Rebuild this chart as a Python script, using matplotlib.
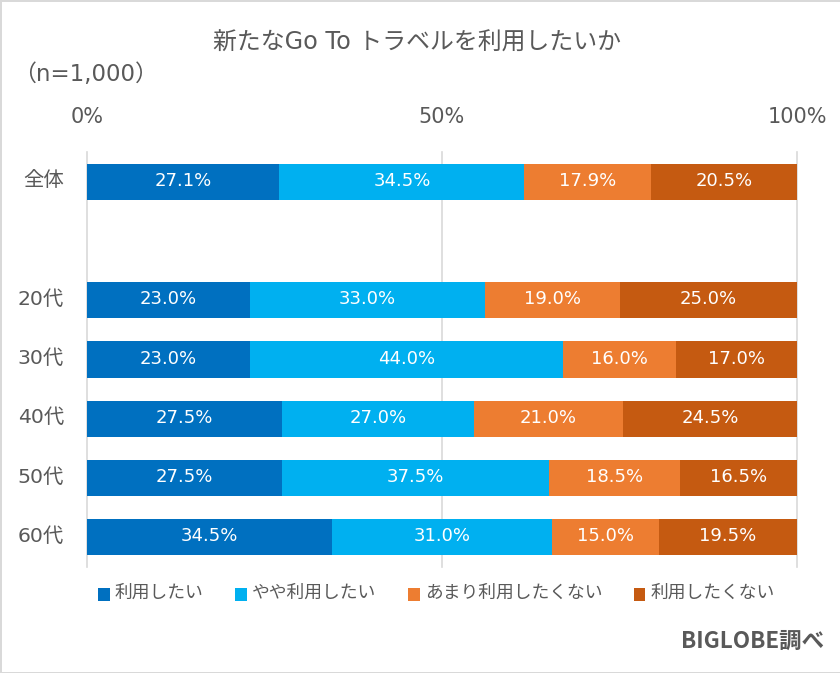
import matplotlib
matplotlib.use('Agg')
import matplotlib.pyplot as plt
from matplotlib.transforms import ScaledTranslation
import numpy as np

plt.rcParams['font.family'] = ['DejaVu Sans', 'Noto Sans CJK JP']

# データ（空行は全体と20代の間のすきま）
groups = ['全体', '', '20代', '30代', '40代', '50代', '60代']
series_names = ['利用したい', 'やや利用したい', 'あまり利用したくない', '利用したくない']
want = [27.1, np.nan, 23.0, 23.0, 27.5, 27.5, 34.5]
somewhat = [34.5, np.nan, 33.0, 44.0, 27.0, 37.5, 31.0]
not_much = [17.9, np.nan, 19.0, 16.0, 21.0, 18.5, 15.0]
not_want = [20.5, np.nan, 25.0, 17.0, 24.5, 16.5, 19.5]
colors = ['#0070C0', '#00B0F0', '#ED7D31', '#C55A11']
x_ticks = [0, 50, 100]
x_tick_labels = ['0%', '50%', '100%']

text_color = '#595959'

fig = plt.figure(figsize=(8.4, 6.73), dpi=100, facecolor='white')
ax = fig.add_axes([87 / 840, 1 - 567 / 673, 710 / 840, 415 / 673])

y = np.arange(len(groups))
left = np.zeros(len(groups))
handles = []
for name, vals, c in zip(series_names, [want, somewhat, not_much, not_want], colors):
    vals = np.array(vals)
    b = ax.barh(y, vals, left=np.nan_to_num(left), height=0.61, color=c, label=name, zorder=3)
    handles.append(b)
    for yy, v, l in zip(y, vals, left):
        if not np.isnan(v):
            ax.text(l + v / 2, yy - 0.015, f'{v:.1f}%', color='white', fontsize=13,
                    ha='center', va='center', zorder=4)
    left = left + np.nan_to_num(vals)

ax.set_xlim(0, 100)
ax.set_ylim(len(groups) - 0.5, -0.5)
ax.xaxis.tick_top()
ax.set_xticks(x_ticks)
ax.set_xticklabels(x_tick_labels, fontsize=15, color=text_color)
ax.set_yticks(y)
ax.set_yticklabels(groups, fontsize=14.7, color=text_color)
ax.tick_params(axis='both', length=0)
ax.tick_params(axis='x', pad=17.7)
ax.tick_params(axis='y', pad=16.5)
for lbl in ax.get_yticklabels():
    lbl.set_transform(lbl.get_transform() + ScaledTranslation(0, 2.2 / 72, fig.dpi_scale_trans))
ax.grid(axis='x', color='#d9d9d9', linewidth=1.2, zorder=0)
for gl in ax.get_xgridlines():
    gl.set_clip_on(False)
for s in ax.spines.values():
    s.set_visible(False)

fig.text(417 / 840, 1 - 43 / 673, '新たなGo To トラベルを利用したいか', fontsize=17.2,
         color=text_color, ha='center', va='center')
fig.text(13 / 840, 1 - 74 / 673, '（n=1,000）', fontsize=16.5, color=text_color,
         ha='left', va='center')
fig.text(824 / 840, 1 - 641 / 673, 'BIGLOBE調べ', fontsize=16.2, color=text_color,
         family=['Noto Sans CJK JP'], fontweight='bold', ha='right', va='center')

leg = ax.legend(handles=handles, ncol=4, loc='center left', frameon=False,
                bbox_to_anchor=(98 / 840, 1 - 593 / 673), bbox_transform=fig.transFigure,
                fontsize=12.8, labelcolor=text_color, handlelength=0.67, handleheight=0.67,
                handletextpad=0.28, columnspacing=1.77, borderpad=0, borderaxespad=0)
# マーカーは文字より少し下に置く
for p in leg.get_patches():
    p.set_y(p.get_y() - 2)

# 画像の外枠（左・上・下のみ）
border = '#d9d9d9'
fig.add_artist(plt.Rectangle((0, 0), 2 / 840, 1, transform=fig.transFigure, color=border, lw=0))
fig.add_artist(plt.Rectangle((0, 1 - 2 / 673), 1, 2 / 673, transform=fig.transFigure, color=border, lw=0))
fig.add_artist(plt.Rectangle((0, 0), 1, 1 / 673, transform=fig.transFigure, color=border, lw=0))

fig.savefig('out.png', dpi=100)
